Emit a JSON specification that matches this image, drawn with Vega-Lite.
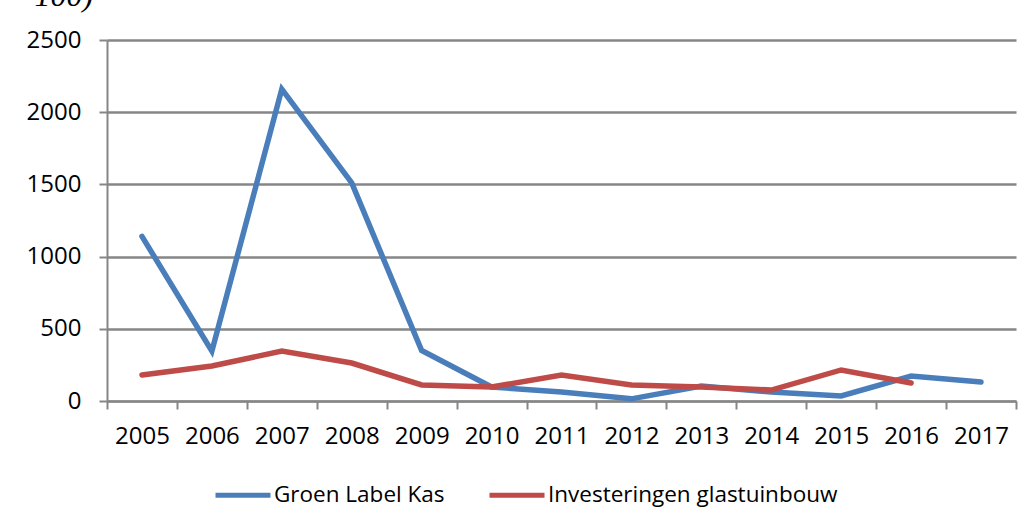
{
  "$schema": "https://vega.github.io/schema/vega-lite/v6.json",
  "width": 909,
  "height": 361,
  "autosize": {"type": "none"},
  "padding": {"left": 107, "top": 40, "right": 16, "bottom": 123},
  "background": "white",
  "title": {
    "text": "= \u00a0100)",
    "anchor": "start",
    "frame": "group",
    "orient": "top",
    "font": "Liberation Serif",
    "fontStyle": "italic",
    "fontWeight": "normal",
    "fontSize": 32,
    "color": "black",
    "baseline": "alphabetic",
    "offset": 0,
    "dx": -110,
    "dy": 10
  },
  "config": {
    "view": {"stroke": null},
    "font": "Open Sans"
  },
  "data": {
    "values": [
      {"year": "2005", "series": "Groen Label Kas", "value": 1140},
      {"year": "2006", "series": "Groen Label Kas", "value": 345},
      {"year": "2007", "series": "Groen Label Kas", "value": 2160},
      {"year": "2008", "series": "Groen Label Kas", "value": 1510},
      {"year": "2009", "series": "Groen Label Kas", "value": 350},
      {"year": "2010", "series": "Groen Label Kas", "value": 97},
      {"year": "2011", "series": "Groen Label Kas", "value": 62},
      {"year": "2012", "series": "Groen Label Kas", "value": 15},
      {"year": "2013", "series": "Groen Label Kas", "value": 104},
      {"year": "2014", "series": "Groen Label Kas", "value": 62},
      {"year": "2015", "series": "Groen Label Kas", "value": 35},
      {"year": "2016", "series": "Groen Label Kas", "value": 173},
      {"year": "2017", "series": "Groen Label Kas", "value": 131},
      {"year": "2005", "series": "Investeringen glastuinbouw", "value": 180},
      {"year": "2006", "series": "Investeringen glastuinbouw", "value": 242},
      {"year": "2007", "series": "Investeringen glastuinbouw", "value": 346},
      {"year": "2008", "series": "Investeringen glastuinbouw", "value": 263},
      {"year": "2009", "series": "Investeringen glastuinbouw", "value": 111},
      {"year": "2010", "series": "Investeringen glastuinbouw", "value": 97},
      {"year": "2011", "series": "Investeringen glastuinbouw", "value": 180},
      {"year": "2012", "series": "Investeringen glastuinbouw", "value": 111},
      {"year": "2013", "series": "Investeringen glastuinbouw", "value": 97},
      {"year": "2014", "series": "Investeringen glastuinbouw", "value": 76},
      {"year": "2015", "series": "Investeringen glastuinbouw", "value": 215},
      {"year": "2016", "series": "Investeringen glastuinbouw", "value": 125}
    ]
  },
  "mark": {"type": "line", "strokeWidth": 5.5, "strokeCap": "round", "strokeJoin": "miter"},
  "encoding": {
    "x": {
      "field": "year",
      "type": "ordinal",
      "scale": {"type": "band", "paddingInner": 0, "paddingOuter": 0},
      "axis": {
        "title": null,
        "labelAngle": 0,
        "labelFont": "Open Sans",
        "labelFontSize": 24,
        "labelColor": "black",
        "labelPadding": 15,
        "tickBand": "extent",
        "tickSize": 8,
        "tickWidth": 2,
        "tickColor": "#868686",
        "domainColor": "#868686",
        "domainWidth": 2,
        "grid": false
      }
    },
    "y": {
      "field": "value",
      "type": "quantitative",
      "scale": {"domain": [0, 2500], "nice": false, "zero": true},
      "axis": {
        "title": null,
        "values": [0, 500, 1000, 1500, 2000, 2500],
        "format": "d",
        "labelFont": "Open Sans",
        "labelFontSize": 24,
        "labelColor": "black",
        "labelPadding": 18,
        "tickSize": 8,
        "tickWidth": 2,
        "tickColor": "#868686",
        "domainColor": "#868686",
        "domainWidth": 2,
        "grid": true,
        "gridColor": "#868686",
        "gridWidth": 2.5,
        "gridOpacity": 1
      }
    },
    "color": {
      "field": "series",
      "type": "nominal",
      "scale": {"domain": ["Groen Label Kas", "Investeringen glastuinbouw"], "range": ["#4A7EBB", "#BE4B48"]},
      "legend": {
        "title": null,
        "orient": "none",
        "direction": "horizontal",
        "legendX": 106,
        "legendY": 425,
        "padding": 0,
        "symbolType": "stroke",
        "symbolSize": 3025,
        "symbolStrokeWidth": 5,
        "labelFont": "Open Sans",
        "labelFontSize": 22.5,
        "labelColor": "black",
        "labelOffset": 1,
        "labelLimit": 0,
        "columnPadding": 34
      }
    }
  }
}
